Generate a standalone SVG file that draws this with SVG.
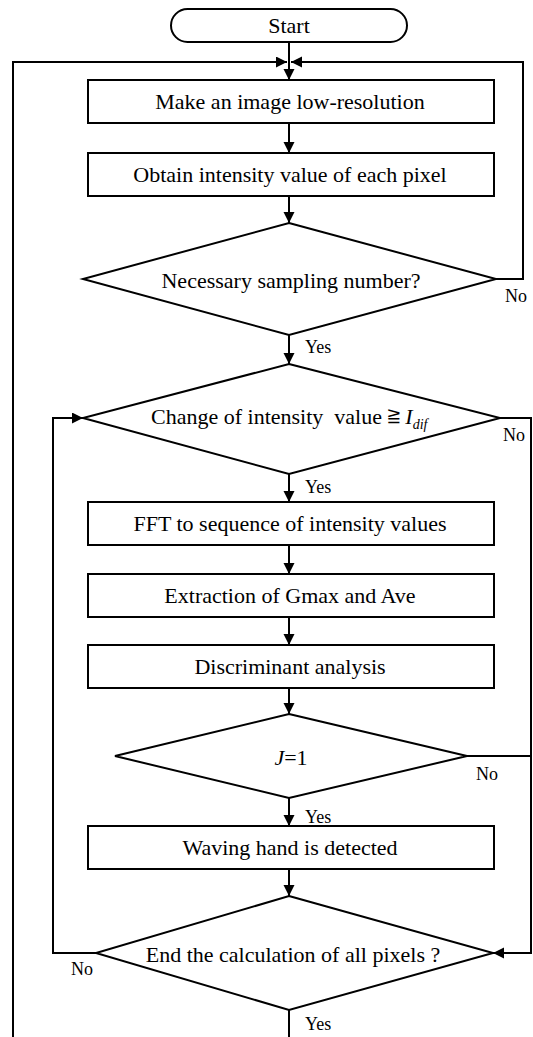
<svg xmlns="http://www.w3.org/2000/svg" width="533" height="1037" viewBox="0 0 533 1037">
  <style>
    .shape { fill: #ffffff; stroke: #000000; stroke-width: 2; }
    .wire { fill: none; stroke: #000000; stroke-width: 2; }
    text { font-family: Liberation Serif, Times New Roman, Times, Tinos, Nimbus Roman, Nimbus Roman No9 L, Noto Serif, DejaVu Serif, FreeSerif, serif; fill: #000000; }
    .label { font-size: 22px; text-anchor: middle; }
    .tag { font-size: 18px; }
  </style>
  <defs>
    <marker id="arrow" markerWidth="12" markerHeight="12" refX="11" refY="5.5" orient="auto" markerUnits="userSpaceOnUse">
      <path d="M0,0 L11,5.5 L0,11 Z" fill="#000000"/>
    </marker>
  </defs>

  <rect width="533" height="1037" fill="#ffffff"/>

  <!-- connectors -->
  <g id="connectors">
    <line class="wire" x1="289" y1="42" x2="289" y2="80" marker-end="url(#arrow)"/>
    <polyline class="wire" points="13,1037 13,62 287,62" marker-end="url(#arrow)"/>
    <polyline class="wire" points="496,279 523,279 523,62 291,62" marker-end="url(#arrow)"/>
    <line class="wire" x1="289" y1="123" x2="289" y2="153" marker-end="url(#arrow)"/>
    <line class="wire" x1="289" y1="196" x2="289" y2="223" marker-end="url(#arrow)"/>
    <line class="wire" x1="289" y1="335" x2="289" y2="364" marker-end="url(#arrow)"/>
    <polyline class="wire" points="500,418 531,418 531,953 493,953" marker-end="url(#arrow)"/>
    <line class="wire" x1="289" y1="474" x2="289" y2="502" marker-end="url(#arrow)"/>
    <line class="wire" x1="289" y1="545" x2="289" y2="574" marker-end="url(#arrow)"/>
    <line class="wire" x1="289" y1="617" x2="289" y2="645" marker-end="url(#arrow)"/>
    <line class="wire" x1="289" y1="688" x2="289" y2="714" marker-end="url(#arrow)"/>
    <polyline class="wire" points="467,756 531,756"/>
    <line class="wire" x1="289" y1="798" x2="289" y2="826" marker-end="url(#arrow)"/>
    <line class="wire" x1="289" y1="869" x2="289" y2="896" marker-end="url(#arrow)"/>
    <polyline class="wire" points="96,953 53,953 53,418 83,418" marker-end="url(#arrow)"/>
    <line class="wire" x1="289" y1="1010" x2="289" y2="1037"/>
    <text class="tag" x="505" y="302">No</text>
    <text class="tag" x="305" y="353">Yes</text>
    <text class="tag" x="503" y="441">No</text>
    <text class="tag" x="305" y="493">Yes</text>
    <text class="tag" x="476" y="780">No</text>
    <text class="tag" x="305" y="823">Yes</text>
    <text class="tag" x="71" y="975">No</text>
    <text class="tag" x="305" y="1030">Yes</text>
  </g>

  <g id="start">
    <rect class="shape" x="171" y="9" width="236" height="33" rx="16.5"/>
    <text class="label" x="289" y="33">Start</text>
  </g>
  <g id="low-resolution">
    <rect class="shape" x="88" y="80" width="406" height="43"/>
    <text class="label" x="290" y="109">Make an image low-resolution</text>
  </g>
  <g id="intensity">
    <rect class="shape" x="88" y="153" width="406" height="43"/>
    <text class="label" x="290" y="182">Obtain intensity value of each pixel</text>
  </g>
  <g id="sampling-check">
    <polygon class="shape" points="289,223 496,279 289,335 83,279"/>
    <text class="label" x="291" y="288">Necessary sampling number?</text>
  </g>
  <g id="change-check">
    <polygon class="shape" points="289,364 500,418 289,474 83,418"/>
    <text class="label" x="151" y="424" style="text-anchor:start" xml:space="preserve">Change of intensity  value ≧ <tspan font-style="italic">I</tspan><tspan font-style="italic" font-size="14" dy="5">dif</tspan></text>
  </g>
  <g id="fft">
    <rect class="shape" x="88" y="502" width="406" height="43"/>
    <text class="label" x="290" y="531">FFT to sequence of intensity values</text>
  </g>
  <g id="extraction">
    <rect class="shape" x="88" y="574" width="406" height="43"/>
    <text class="label" x="290" y="603">Extraction of Gmax and Ave</text>
  </g>
  <g id="discriminant">
    <rect class="shape" x="88" y="645" width="406" height="43"/>
    <text class="label" x="290" y="674">Discriminant analysis</text>
  </g>
  <g id="j-check">
    <polygon class="shape" points="289,714 467,756 289,798 115,756"/>
    <text class="label" x="291" y="765"><tspan font-style="italic">J</tspan>=1</text>
  </g>
  <g id="detected">
    <rect class="shape" x="88" y="826" width="406" height="43"/>
    <text class="label" x="290" y="855">Waving hand is detected</text>
  </g>
  <g id="end-check">
    <polygon class="shape" points="289,896 493,953 289,1010 96,953"/>
    <text class="label" x="293" y="962">End the calculation of all pixels ?</text>
  </g>
</svg>
